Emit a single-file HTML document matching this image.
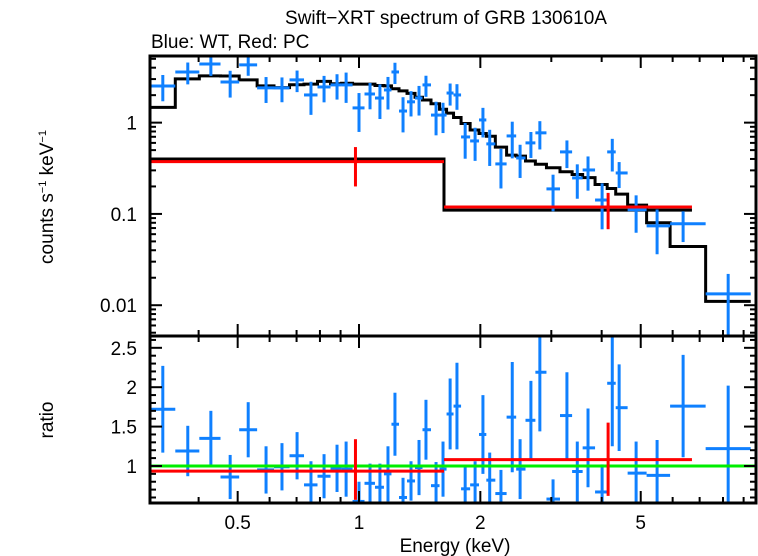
<!DOCTYPE html>
<html><head><meta charset="utf-8"><style>
html,body{margin:0;padding:0;background:#fff;}
svg{display:block;font-family:"Liberation Sans",sans-serif;}
</style></head><body>
<svg id="chart" width="758" height="556" viewBox="0 0 758 556" xmlns="http://www.w3.org/2000/svg">
<text x="446" y="24" font-size="19" text-anchor="middle">Swift−XRT spectrum of GRB 130610A</text>
<text x="151" y="48" font-size="19">Blue: WT, Red: PC</text>
<text transform="translate(53,197) rotate(-90)" font-size="19" text-anchor="middle">counts s<tspan font-size="11" dy="-7">−1</tspan><tspan dy="7"> keV</tspan><tspan font-size="11" dy="-7">−1</tspan></text>
<text transform="translate(53,420) rotate(-90)" font-size="19" text-anchor="middle">ratio</text>
<text x="455" y="552" font-size="19" text-anchor="middle">Energy (keV)</text>
<g id="marks"></g>
</svg>
<script>
// WT data (blue)
const wtEnergy=[0.326,0.376,0.429,0.479,0.531,0.588,0.644,0.702,0.760,0.819,0.882,0.929,1.00,1.065,1.127,1.180,1.228,1.286,1.346,1.409,1.466,1.553,1.616,1.683,1.750,1.834,1.941,2.03,2.11,2.25,2.40,2.51,2.67,2.81,3.03,3.28,3.48,3.70,4.01,4.25,4.42,4.87,5.49,6.37,8.24];
const wtCounts=[2.52,3.59,4.39,2.79,4.29,2.40,2.40,2.94,2.01,2.46,2.59,2.59,1.45,2.06,1.86,2.28,3.59,1.34,1.69,1.86,2.59,1.21,1.21,2.11,2.01,0.697,0.63,1.07,0.585,0.353,0.715,0.41,0.60,0.773,0.188,0.478,0.248,0.303,0.142,0.478,0.281,0.111,0.074,0.078,0.0133];
const wtRatio=[1.72,1.19,1.35,0.86,1.46,0.95,0.99,1.13,0.76,0.87,0.97,0.96,0.55,0.78,0.73,0.90,1.53,0.60,0.81,0.98,1.46,0.75,0.96,1.66,1.76,0.71,0.76,1.40,0.82,0.65,1.62,0.96,1.58,2.19,0.58,1.64,0.93,1.23,0.67,2.05,1.74,0.91,0.88,1.76,1.22];
const wtRatioErr=[0.55,0.32,0.35,0.28,0.35,0.30,0.30,0.30,0.30,0.28,0.30,0.35,0.25,0.25,0.30,0.35,0.40,0.25,0.25,0.35,0.38,0.30,0.35,0.45,0.55,0.30,0.30,0.50,0.35,0.30,0.70,0.38,0.50,0.75,0.25,0.55,0.38,0.50,0.35,0.80,0.55,0.40,0.45,0.65,0.80];
const wtModel=[1.47,3.02,3.25,3.24,2.94,2.53,2.42,2.60,2.64,2.83,2.67,2.70,2.64,2.64,2.55,2.53,2.35,2.23,2.09,1.90,1.77,1.61,1.40,1.27,1.14,0.98,0.83,0.76,0.71,0.54,0.44,0.43,0.38,0.35,0.32,0.29,0.27,0.25,0.21,0.19,0.165,0.125,0.08,0.044,0.011];
// PC data (red)
const pcEdges=[0.303,1.625,6.7];
const pcCounts=[0.374,0.119];
const pcPointE=[0.98,4.15];
const pcErrHi=[0.54,0.17];
const pcErrLo=[0.20,0.068];
const pcModel=[0.40,0.110];
const pcRatio=[0.935,1.08];
const pcRatioHi=[1.34,1.55];
const pcRatioLo=[0.57,0.62];
// axes
const xMin=0.303,xMax=9.66;
const topMin=0.0046,topMax=5.37;
const ratMin=0.53,ratMax=2.65;
const xMajor=[0.5,1,2,5];const xMajorLabels=["0.5","1","2","5"];
const topMajor=[1,0.1,0.01];const topMajorLabels=["1","0.1","0.01"];
const ratMajor=[1,1.5,2,2.5];const ratMajorLabels=["1","1.5","2","2.5"];

const L=150,R=756,T1=56,B1=336,B2=503;
const X=e=>L+(Math.log10(e)-Math.log10(xMin))/(Math.log10(xMax)-Math.log10(xMin))*(R-L);
const Y1=v=>{v=Math.max(v,topMin*0.5);return B1-(Math.log10(v)-Math.log10(topMin))/(Math.log10(topMax)-Math.log10(topMin))*(B1-T1);};
const Y2=v=>B2-(v-ratMin)/(ratMax-ratMin)*(B2-B1);
const NS="http://www.w3.org/2000/svg";
const g=document.getElementById('marks');
function mk(tag,attrs,parent){const e=document.createElementNS(NS,tag);for(const k in attrs)e.setAttribute(k,attrs[k]);(parent||g).appendChild(e);return e;}
function line(x1,y1,x2,y2,c,w,name){const e=mk('line',{x1,y1,x2,y2,stroke:c,'stroke-width':w});

return e;}
const clipT=mk('clipPath',{id:'ct'});mk('rect',{x:L,y:T1,width:R-L,height:B1-T1},clipT);
const clipB=mk('clipPath',{id:'cb'});mk('rect',{x:L,y:B1,width:R-L,height:B2-B1},clipB);
const gT=mk('g',{'clip-path':'url(#ct)'});


const gB=mk('g',{'clip-path':'url(#cb)'});


const n=wtEnergy.length;const lg=wtEnergy.map(e=>Math.log10(e));const edges=[];
edges.push(Math.pow(10,lg[0]-(lg[1]-lg[0])/2));
for(let i=0;i<n-1;i++)edges.push(Math.pow(10,(lg[i]+lg[i+1])/2));
edges.push(Math.pow(10,lg[n-1]+(lg[n-1]-lg[n-2])/2));
const BLUE="#0f80ff";
let d="";for(let i=0;i<n;i++){d+=(i?"L":"M")+X(edges[i])+","+Y1(wtModel[i])+"L"+X(edges[i+1])+","+Y1(wtModel[i]);}
let p=mk('path',{d,fill:'none',stroke:'#000','stroke-width':3},gT);


d="";for(let i=0;i<pcModel.length;i++){d+=(i?"L":"M")+X(pcEdges[i])+","+Y1(pcModel[i])+"L"+X(pcEdges[i+1])+","+Y1(pcModel[i]);}
p=mk('path',{d,fill:'none',stroke:'#000','stroke-width':3},gT);


for(let i=0;i<n;i++){
 const rel=wtRatioErr[i]/wtRatio[i];const v=wtCounts[i];
 const x=X(wtEnergy[i]),y=Y1(v);
 gT.appendChild(line(X(edges[i]),y,X(edges[i+1]),y,BLUE,3,'wt-point-xerr'));
 gT.appendChild(line(x,Y1(v*(1+rel)),x,Y1(v*(1-rel)),BLUE,3,'wt-point-yerr'));
 const yr=Y2(wtRatio[i]);
 gB.appendChild(line(X(edges[i]),yr,X(edges[i+1]),yr,BLUE,3,'wt-ratio-xerr'));
 gB.appendChild(line(x,Y2(wtRatio[i]+wtRatioErr[i]),x,Y2(wtRatio[i]-wtRatioErr[i]),BLUE,3,'wt-ratio-yerr'));
}
for(let i=0;i<pcCounts.length;i++){
 const y=Y1(pcCounts[i]),x=X(pcPointE[i]);
 gT.appendChild(line(X(pcEdges[i]),y,X(pcEdges[i+1]),y,'#ff0000',3,'pc-point-xerr'));
 gT.appendChild(line(x,Y1(pcErrHi[i]),x,Y1(pcErrLo[i]),'#ff0000',3,'pc-point-yerr'));
}
gB.appendChild(line(L,Y2(1),R,Y2(1),'#00ee00',3,'unity-line'));
for(let i=0;i<pcRatio.length;i++){
 const y=Y2(pcRatio[i]),x=X(pcPointE[i]);
 gB.appendChild(line(X(pcEdges[i]),y,X(pcEdges[i+1]),y,'#ff0000',3,'pc-ratio-xerr'));
 gB.appendChild(line(x,Y2(pcRatioHi[i]),x,Y2(pcRatioLo[i]),'#ff0000',3,'pc-ratio-yerr'));
}
const minorX=[];for(let dec=0.1;dec<=10;dec*=10)for(let k=1;k<10;k++){const e=k*dec;if(e>=xMin&&e<=xMax&&xMajor.indexOf(+e.toFixed(3))<0)minorX.push(e);}
function xt(e,len){const x=X(e);[[T1,1],[B1,-1],[B1,1],[B2,-1]].forEach(([y0,s])=>g.appendChild(line(x,y0,x,y0+s*len,'#000',2,'x-tick')));}
minorX.forEach(e=>xt(e,6));xMajor.forEach(e=>xt(e,12));
xMajor.forEach((e,i)=>{const t=mk('text',{x:X(e),y:529,'font-size':19,'text-anchor':'middle'});t.textContent=xMajorLabels[i];

});
function yt(y,len){g.appendChild(line(L,y,L+len,y,'#000',2,'y-tick'));g.appendChild(line(R,y,R-len,y,'#000',2,'y-tick'));}
for(let dec=0.001;dec<10;dec*=10)for(let k=1;k<10;k++){const v=k*dec;if(v>=topMin&&v<=topMax)yt(Y1(v),k==1?12:6);}
topMajor.forEach((v,i)=>{const t=mk('text',{x:137,y:Y1(v)+7,'font-size':19,'text-anchor':'end'});t.textContent=topMajorLabels[i];

});
for(let k=6;k<=26;k++){const v=k/10;if(v>=ratMin&&v<=ratMax)yt(Y2(v),k%5==0?12:6);}
ratMajor.forEach((v,i)=>{const t=mk('text',{x:137,y:Y2(v)+7,'font-size':19,'text-anchor':'end'});t.textContent=ratMajorLabels[i];

});
let f=mk('rect',{x:L,y:T1,width:R-L,height:B1-T1,fill:'none',stroke:'#000','stroke-width':3});


f=mk('rect',{x:L,y:B1,width:R-L,height:B2-B1,fill:'none',stroke:'#000','stroke-width':3});


</script>
</body></html>
